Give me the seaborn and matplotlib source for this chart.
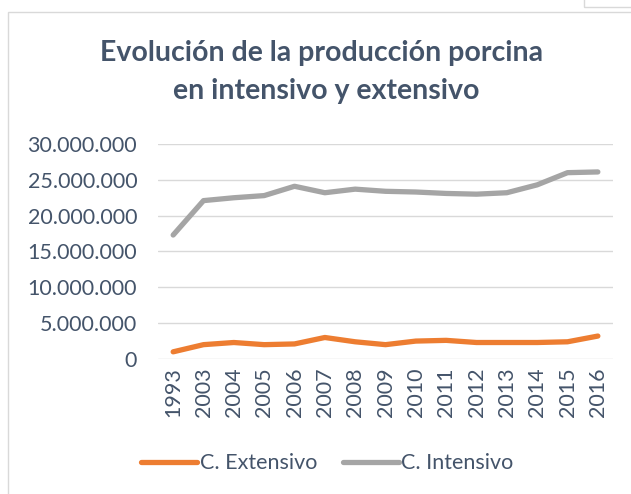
import pandas as pd
import matplotlib.pyplot as plt
import matplotlib.ticker as mticker
from matplotlib.patches import Rectangle
import seaborn as sns

years = ['1993', '2003', '2004', '2005', '2006', '2007', '2008', '2009',
         '2010', '2011', '2012', '2013', '2014', '2015', '2016']
extensivo = [1000000, 2000000, 2300000, 2000000, 2100000, 3000000, 2400000, 2000000,
             2500000, 2600000, 2300000, 2300000, 2300000, 2400000, 3200000]
intensivo = [17300000, 22100000, 22500000, 22800000, 24100000, 23200000, 23700000, 23400000,
             23300000, 23100000, 23000000, 23200000, 24300000, 26000000, 26100000]

df = pd.DataFrame({'year': years * 2,
                   'valor': extensivo + intensivo,
                   'serie': ['C. Extensivo'] * len(years) + ['C. Intensivo'] * len(years)})

sns.set_style('white')
plt.rcParams['font.family'] = ['Lato', 'DejaVu Sans']
txt = '#44546A'

fig = plt.figure(figsize=(6.31, 4.94), dpi=100)
ax = fig.add_axes([0.2504, 0.2733, 0.7211, 0.4352])

sns.lineplot(data=df, x='year', y='valor', hue='serie', sort=False,
             palette={'C. Extensivo': '#ED7D31', 'C. Intensivo': '#A5A5A5'},
             linewidth=3.8, ax=ax)

ax.set_xlim(-0.5, len(years) - 0.5)
ax.set_ylim(0, 30000000)
ax.set_yticks(range(0, 30000001, 5000000))
ax.yaxis.set_major_formatter(mticker.FuncFormatter(lambda v, p: f'{int(v):,}'.replace(',', '.')))
ax.grid(axis='y', color='#D9D9D9', linewidth=1)
ax.set_axisbelow(True)
for s in ax.spines.values():
    s.set_visible(False)
ax.tick_params(axis='both', length=0, labelsize=15.5, colors=txt)
ax.tick_params(axis='x', rotation=90, pad=6)
ax.tick_params(axis='y', pad=15)
ax.set_xlabel('')
ax.set_ylabel('')

ax.legend(loc='center', bbox_to_anchor=(0.372, -0.484), ncol=2, frameon=False,
          fontsize=15.5, labelcolor=txt, handlelength=2.6, handletextpad=0.1,
          columnspacing=1.2)

fig.text(0.51, 0.893, 'Evolución de la producción porcina', ha='center', va='center',
         fontsize=20.5, fontweight='bold', color=txt)
fig.text(0.517, 0.815, 'en intensivo y extensivo', ha='center', va='center',
         fontsize=20.5, fontweight='bold', color=txt)

# chart frame
fig.patches.append(Rectangle((8 / 631, -0.1), 1.0, 1 - 12 / 494 + 0.1, transform=fig.transFigure,
                             fill=False, edgecolor='#D9D9D9', linewidth=1))
fig.patches.append(Rectangle((584 / 631, 0.985), 0.2, 0.1, transform=fig.transFigure,
                             fill=False, edgecolor='#D9D9D9', linewidth=1))

plt.savefig('out.png', dpi=100)
